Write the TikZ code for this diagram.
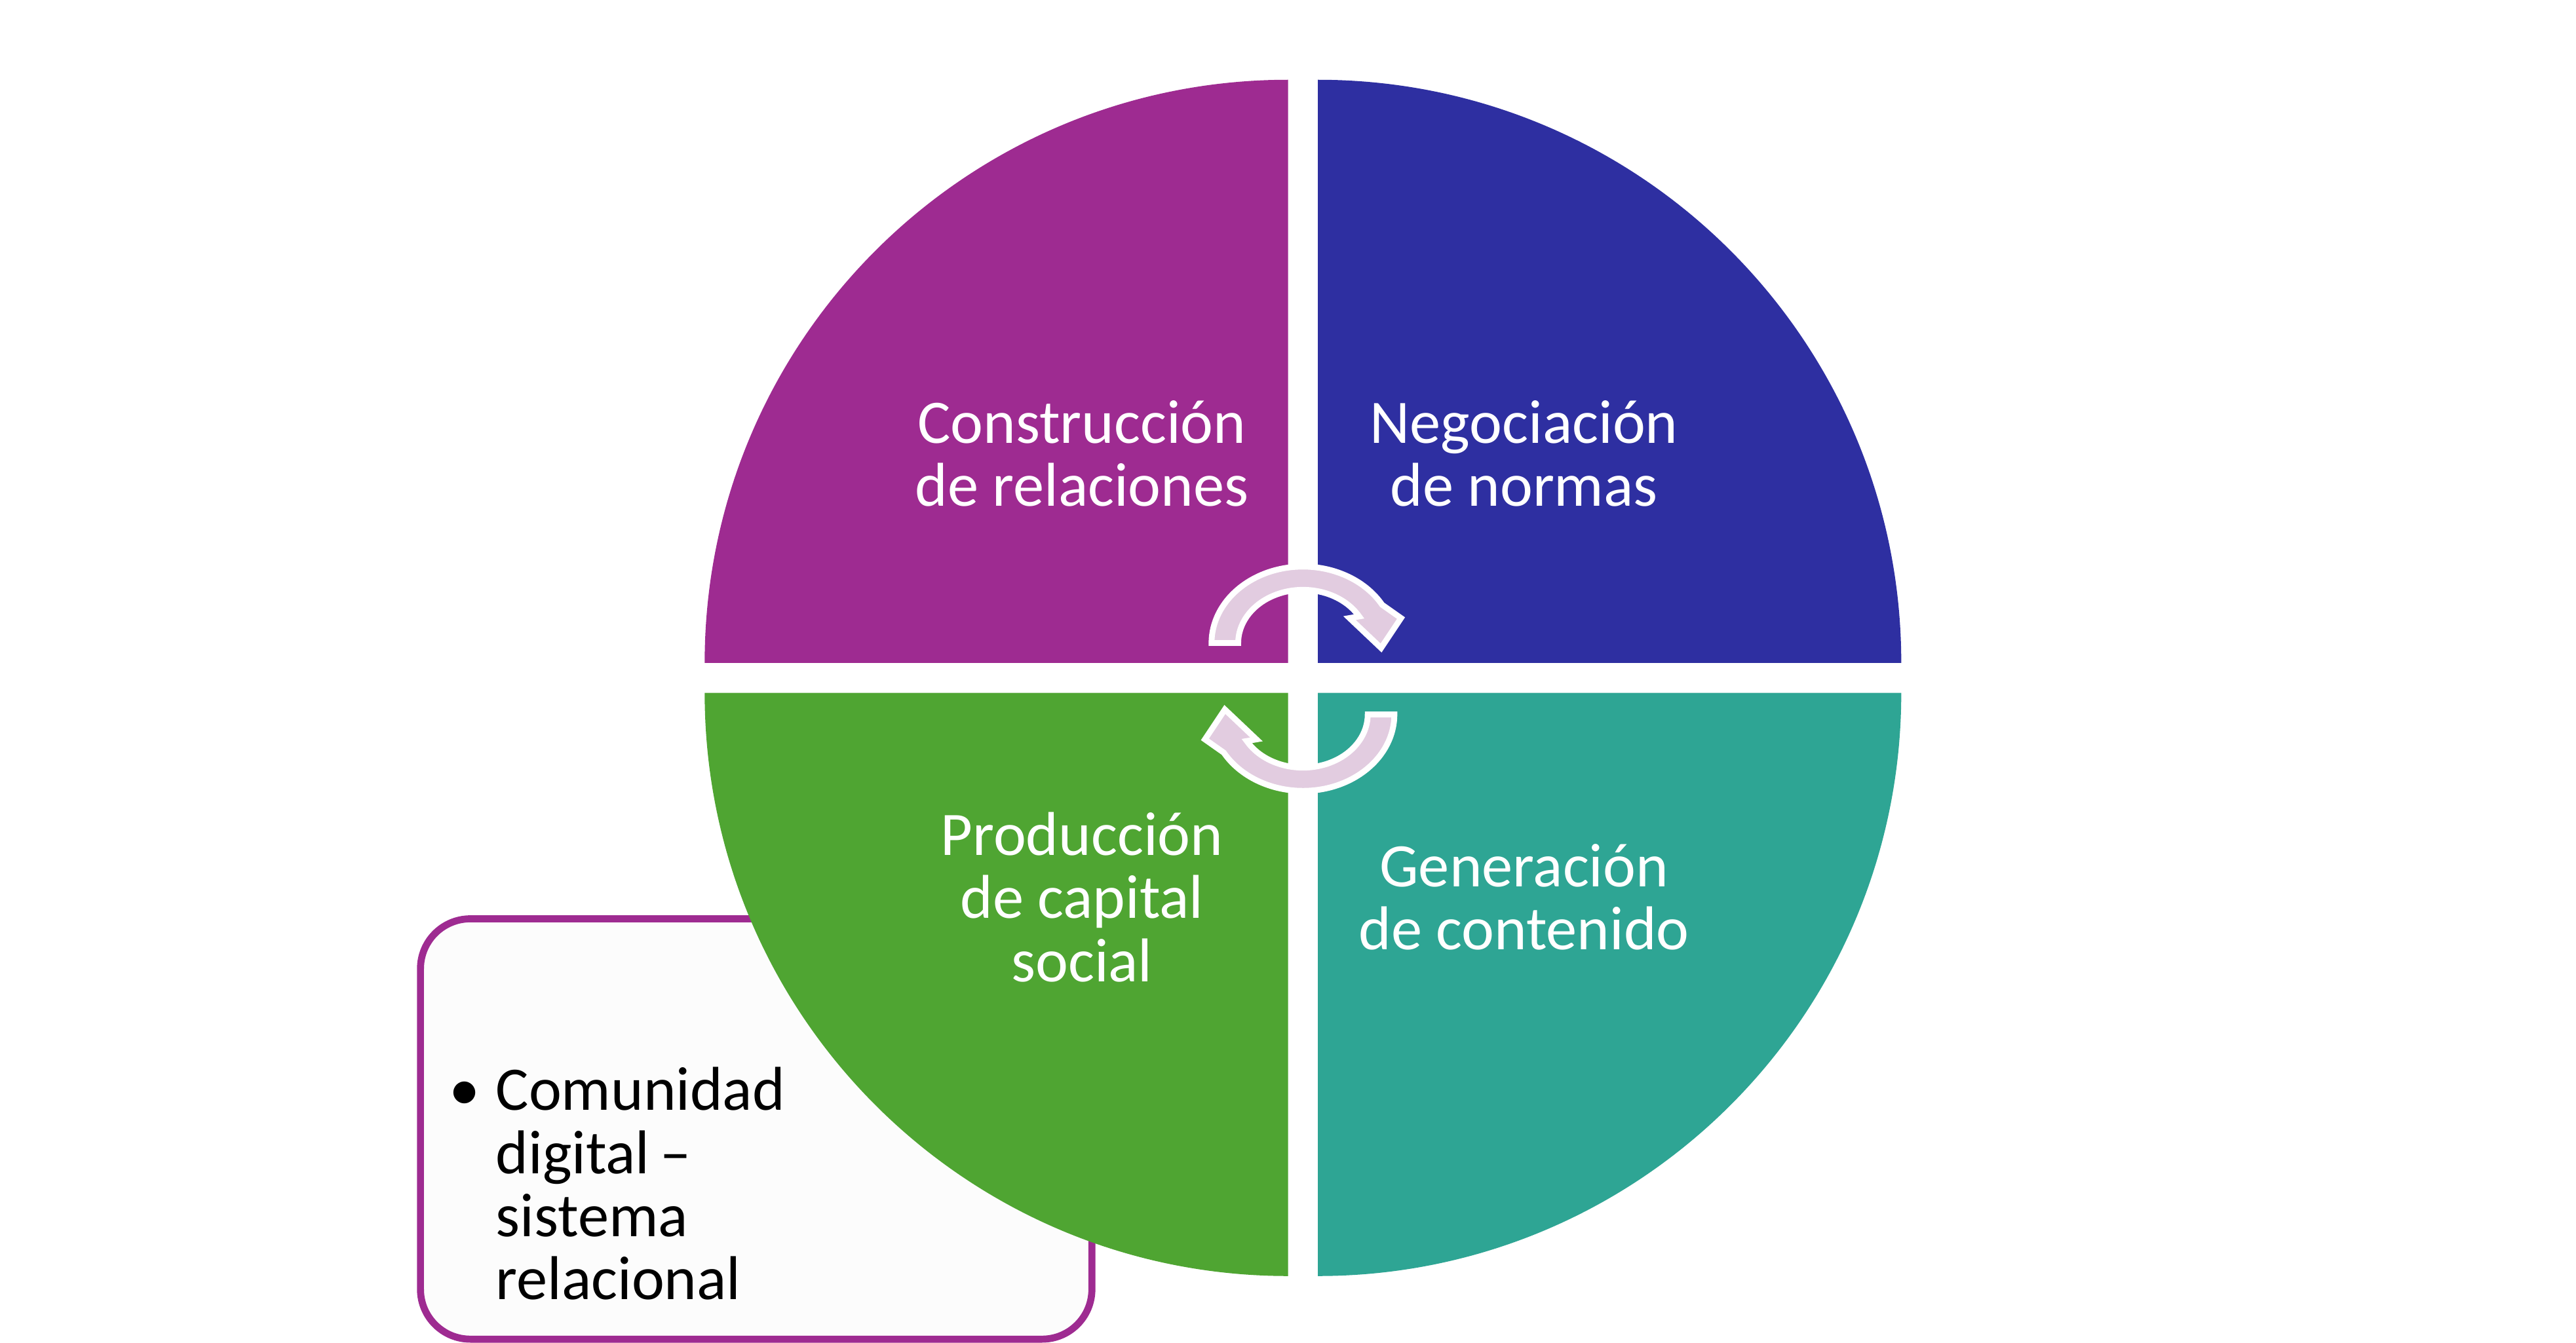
\documentclass[tikz,border=0pt]{standalone}
\usepackage{fontspec}
\setmainfont{Carlito}
\usepackage{tikz}
\definecolor{quadpurple}{HTML}{9E2B91}
\definecolor{quadnavy}{HTML}{2E2FA1}
\definecolor{quadgreen}{HTML}{4FA532}
\definecolor{quadteal}{HTML}{2EA594}
\definecolor{arrowfill}{HTML}{E2CCE0}
\tikzset{
  quadlabel/.style={text=white, font=\fontsize{10.6}{10.8}\selectfont, align=center},
  cyclearrow/.style={fill=arrowfill, draw=white, line width=1pt},
}
\begin{document}
\begin{tikzpicture}
      \useasboundingbox (0,-8.08) rectangle (15.5,0);
      % callout box behind the circle
      \draw[draw=quadpurple, line width=1.2pt, fill=white!99!black, rounded corners=0.3cm]
            (2.53,-5.53) rectangle (6.57,-8.06);
      \node[anchor=north west, text width=3.6cm, font=\fontsize{10.6}{10.8}\selectfont] (note) at (2.58,-6.30)
            {\makebox[0.28cm][l]{\textbullet}Comunidad\\\hspace*{0.28cm}digital\,--\\\hspace*{0.28cm}sistema\\\hspace*{0.28cm}relacional};
      % quadrants
      \fill[quadpurple] (7.75,-3.99) -- ++(-3.51,0) arc[start angle=180, end angle=90, radius=3.51] -- cycle;
      \fill[quadnavy]   (7.93,-3.99) -- ++(0,3.51) arc[start angle=90, end angle=0, radius=3.51] -- cycle;
      \fill[quadgreen]  (7.75,-4.17) -- ++(0,-3.51) arc[start angle=270, end angle=180, radius=3.51] -- cycle;
      \fill[quadteal]   (7.93,-4.17) -- ++(3.51,0) arc[start angle=0, end angle=-90, radius=3.51] -- cycle;
      \node[quadlabel] (relaciones) at (6.51,-2.73) {Construcción\\de relaciones};
      \node[quadlabel] (normas) at (9.17,-2.73) {Negociación\\de normas};
      \node[quadlabel] (capital) at (6.51,-5.40) {Producción\\de capital\\social};
      \node[quadlabel] (contenido) at (9.17,-5.40) {Generación\\de contenido};
      % circular arrows
      \foreach \ang in {0,180}{
        \begin{scope}[rotate around={\ang:(7.84,-4.085)}]
          \draw[cyclearrow] (7.29,-3.87) arc[start angle=180, end angle=30, x radius=0.55, y radius=0.46]
                -- (8.43,-3.72) -- (8.31,-3.90) -- (8.12,-3.72) -- (8.178,-3.71)
                arc[start angle=30, end angle=180, x radius=0.39, y radius=0.32] -- cycle;
        \end{scope}
      }
\end{tikzpicture}
\end{document}
